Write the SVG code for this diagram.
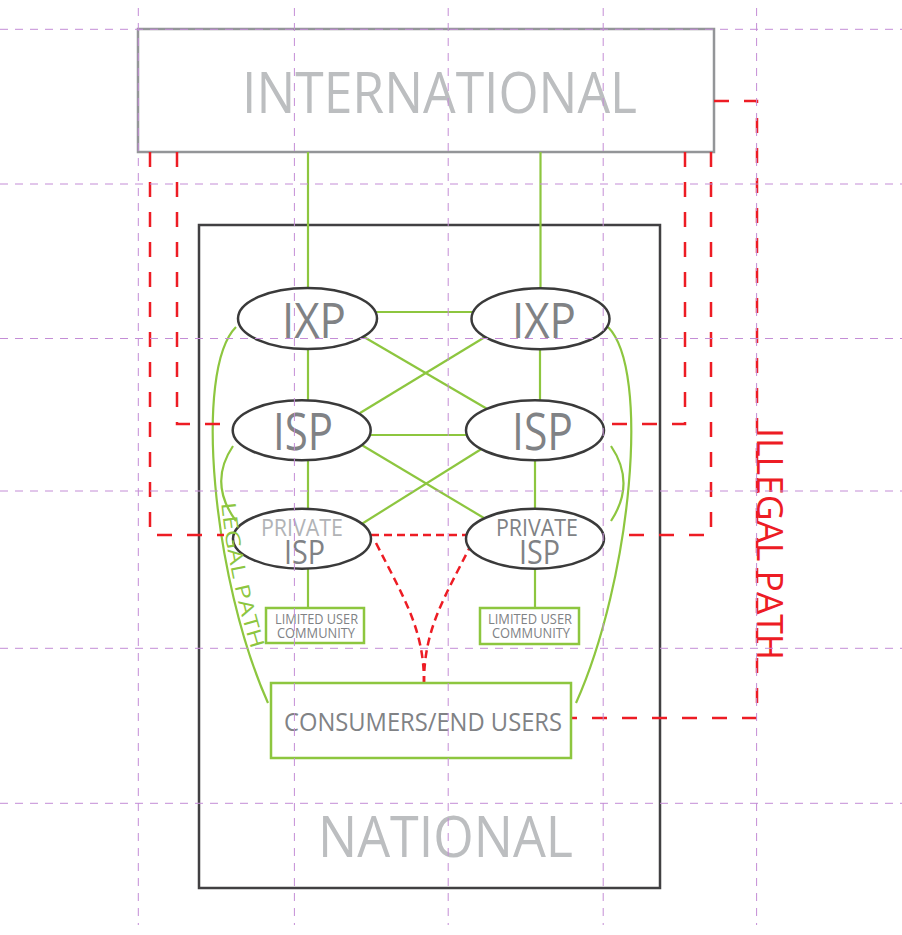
<svg xmlns="http://www.w3.org/2000/svg" width="902" height="935" viewBox="0 0 902 935">
<style>
  .txt { font-family: "Open Sans", "Liberation Sans", sans-serif; }
  .big { fill: #bcbec0; font-size: 57px; }
  .node { fill: #ffffff; stroke: #3a3a3a; stroke-width: 2.5; }
  .lbl { fill: #808285; }
  .lbl-light { fill: #b1b3b6; }
  .gbox { fill: #ffffff; stroke: #8dc63f; stroke-width: 2.5; }
  .green { fill: none; stroke: #8dc63f; stroke-width: 2.2; }
  .red { fill: none; stroke: #ed1c24; stroke-width: 2.5; stroke-dasharray: 15 15; }
  .red-fine { fill: none; stroke: #ed1c24; stroke-width: 2.5; stroke-dasharray: 8 5; }
  .grid { fill: none; stroke: #c48dd6; stroke-width: 1; stroke-dasharray: 8 7; }
</style>
<defs>
  <path id="legalPath" d="M221,500 Q228,574.5 253,655"/>
</defs>
<rect width="902" height="935" fill="#ffffff"/>

<g id="international">
  <rect x="138" y="29" width="576" height="123" fill="#ffffff" stroke="#939598" stroke-width="2.5"/>
  <text class="txt big" x="242" y="113" textLength="395" lengthAdjust="spacingAndGlyphs">INTERNATIONAL</text>
</g>

<g id="national">
  <rect x="199" y="225" width="461" height="663" fill="none" stroke="#414042" stroke-width="2.5"/>
  <text class="txt big" x="318" y="857" textLength="255" lengthAdjust="spacingAndGlyphs">NATIONAL</text>
</g>

<g id="connectors">
  <path class="green" d="M308,152 V288"/>
  <path class="green" d="M540.5,152 V288"/>
  <path class="green" d="M308,349 V400"/>
  <path class="green" d="M540,349 V400"/>
  <path class="green" d="M308,461 V509"/>
  <path class="green" d="M535,461 V509"/>
  <path class="green" d="M308,569 V608"/>
  <path class="green" d="M535,569 V608"/>
  <path class="green" d="M375,312 H473"/>
  <path class="green" d="M370,435 H467"/>
  <path class="green" d="M364,337 L489,410"/>
  <path class="green" d="M485,337 L360,413"/>
  <path class="green" d="M360,444 L489,521"/>
  <path class="green" d="M360,525 L483,448"/>
  <path class="green" d="M236,327 C193,370 213,580 268,703"/>
  <path class="green" d="M608,327 C651,370 631,580 576,703"/>
  <path class="green" d="M233,446 Q208,483 236,521"/>
  <path class="green" d="M611,446 Q636,483 611,521"/>
  <path class="red" d="M714,101 H757 V718 H571"/>
  <path class="red" d="M150,152 V535 H224"/>
  <path class="red" d="M177,152 V424 H224"/>
  <path class="red" d="M685,152 V424 H608"/>
  <path class="red" d="M711,152 V535 H620"/>
  <path class="red-fine" d="M371,535 H466"/>
  <path class="red-fine" d="M376,543 C405,600 424,630 424,683"/>
  <path class="red-fine" d="M472,543 C443,600 424,630 424,683"/>
</g>

<g id="ixp-left">
  <ellipse class="node" cx="307.5" cy="318.5" rx="69.5" ry="30.5"/>
  <text class="txt lbl" x="282" y="338" font-size="49" textLength="64" lengthAdjust="spacingAndGlyphs">IXP</text>
</g>
<g id="ixp-right">
  <ellipse class="node" cx="540.5" cy="318.7" rx="69" ry="30.5"/>
  <text class="txt lbl" x="512" y="338" font-size="49" textLength="64" lengthAdjust="spacingAndGlyphs">IXP</text>
</g>
<g id="isp-left">
  <ellipse class="node" cx="301.7" cy="430.3" rx="69" ry="30"/>
  <text class="txt lbl" x="273" y="450" font-size="52" textLength="60" lengthAdjust="spacingAndGlyphs">ISP</text>
</g>
<g id="isp-right">
  <ellipse class="node" cx="535" cy="430.3" rx="69" ry="30"/>
  <text class="txt lbl" x="512" y="450" font-size="52" textLength="61" lengthAdjust="spacingAndGlyphs">ISP</text>
</g>
<g id="private-isp-left">
  <ellipse class="node" cx="302" cy="538.7" rx="69" ry="30"/>
  <text class="txt lbl-light" x="261" y="536" font-size="24" textLength="82" lengthAdjust="spacingAndGlyphs">PRIVATE</text>
  <text class="txt lbl" x="284" y="564" font-size="33" textLength="41" lengthAdjust="spacingAndGlyphs">ISP</text>
</g>
<g id="private-isp-right">
  <ellipse class="node" cx="535" cy="538.7" rx="69" ry="30"/>
  <text class="txt lbl" x="496" y="536" font-size="24" textLength="82" lengthAdjust="spacingAndGlyphs">PRIVATE</text>
  <text class="txt lbl" x="519" y="564" font-size="33" textLength="41" lengthAdjust="spacingAndGlyphs">ISP</text>
</g>
<g id="community-left">
  <rect class="gbox" x="266" y="608" width="98" height="35"/>
  <text class="txt lbl" x="275" y="624" font-size="14" textLength="83" lengthAdjust="spacingAndGlyphs">LIMITED USER</text>
  <text class="txt lbl" x="277" y="638" font-size="14" textLength="78" lengthAdjust="spacingAndGlyphs">COMMUNITY</text>
</g>
<g id="community-right">
  <rect class="gbox" x="480" y="608" width="99" height="36"/>
  <text class="txt lbl" x="488" y="624" font-size="14" textLength="84" lengthAdjust="spacingAndGlyphs">LIMITED USER</text>
  <text class="txt lbl" x="492" y="638" font-size="14" textLength="78" lengthAdjust="spacingAndGlyphs">COMMUNITY</text>
</g>
<g id="consumers">
  <rect class="gbox" x="271" y="683" width="300" height="75"/>
  <text class="txt lbl" x="284" y="731" font-size="25" textLength="278" lengthAdjust="spacingAndGlyphs">CONSUMERS/END USERS</text>
</g>

<g id="path-labels">
  <text class="txt" fill="#8dc63f" font-size="20"><textPath href="#legalPath" startOffset="3" textLength="150" lengthAdjust="spacingAndGlyphs">LEGAL PATH</textPath></text>
  <text class="txt" fill="#ed1c24" font-size="37" transform="translate(757,428) rotate(90)" textLength="232" lengthAdjust="spacingAndGlyphs">ILLEGAL PATH</text>
</g>

<g id="grid">
  <path class="grid" d="M138.3,8 V925 M294.4,8 V925 M448.2,8 V925 M603.2,8 V925 M756.6,8 V925"/>
  <path class="grid" d="M0,29.3 H902 M0,184 H902 M0,338.5 H902 M0,491 H902 M0,648.3 H902 M0,803.3 H902"/>
</g>
</svg>
